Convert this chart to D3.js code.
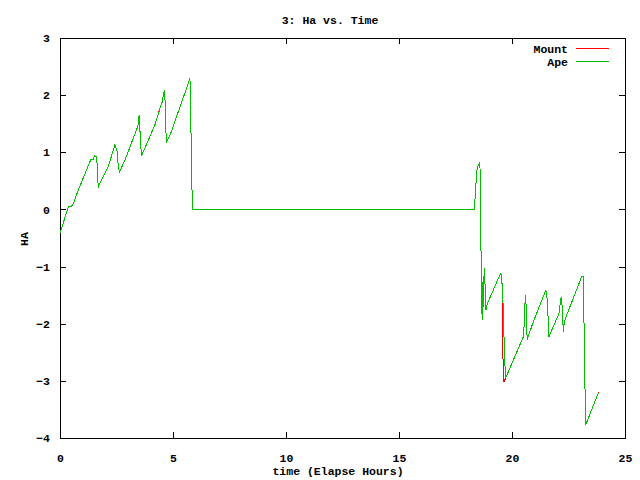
<!DOCTYPE html>
<html>
<head>
<meta charset="utf-8">
<script src="https://cdn.jsdelivr.net/npm/d3@7"></script>
<style>
  body { margin: 0; background: #fff; }
  text { font-family: "Liberation Mono", "DejaVu Sans Mono", monospace; font-weight: bold; font-size: 11.5px; fill: #000; }
</style>
</head>
<body>
<div id="chart"></div>
<script>
// x ticks / y ticks
const xTicks = [0, 5, 10, 15, 20, 25];
const yTicks = [-4, -3, -2, -1, 0, 1, 2, 3];

// Ape series (time in hours, HA)
const apeTime = [0, 0.37, 0.52, 0.59, 0.78, 1.37, 1.47, 1.52, 1.61, 1.64, 1.67, 1.70, 2.14, 2.43, 2.52, 2.58, 2.63, 2.88,
  3.44, 3.48, 3.50, 3.53, 3.57, 3.61, 4.20, 4.45, 4.53, 4.57, 4.62, 4.65, 4.68, 4.72, 4.87, 5.68, 5.75, 5.78, 5.83, 5.86,
  18.33, 18.36, 18.41, 18.43, 18.51, 18.58, 18.61, 18.64, 18.68, 18.70, 18.73, 18.77, 18.80, 18.85, 18.91, 19.39, 19.51,
  19.54, 19.58, 19.62, 19.67, 19.71, 19.73, 20.50, 20.54, 20.59, 20.63, 20.67, 20.94, 21.50, 21.57, 21.63, 22.08, 22.15,
  22.18, 22.22, 22.27, 22.31, 22.39, 23.08, 23.16, 23.18, 23.23, 23.26, 23.82];
const apeHA = [-0.42, 0.05, 0.06, 0.10, 0.31, 0.88, 0.87, 0.94, 0.92, 0.81, 0.51, 0.40, 0.76, 1.13, 1.04, 0.75, 0.65, 0.87,
  1.45, 1.55, 1.65, 1.45, 1.13, 0.94, 1.48, 1.80, 1.89, 2.00, 2.08, 1.89, 1.40, 1.18, 1.30, 2.21, 2.30, 1.74, 0.57, 0.00,
  0.00, 0.16, 0.48, 0.66, 0.78, 0.82, 0.13, -1.24, -1.94, -1.27, -1.70, -1.03, -1.24, -1.76, -1.65, -1.21, -1.11,
  -1.21, -1.40, -1.83, -2.56, -2.90, -2.94, -2.23, -2.00, -1.49, -1.70, -2.28, -1.97, -1.41, -1.62, -2.23, -1.82, -1.59,
  -1.54, -1.70, -2.14, -1.98, -1.88, -1.18, -1.17, -1.82, -3.13, -3.77, -3.21];

// Mount series (mostly under Ape)
const mountTime = [0, 0.37, 0.52, 0.59, 0.80, 1.37, 1.47, 1.52, 1.61, 1.64, 1.67, 1.70, 2.14, 2.43, 2.52, 2.58, 2.63, 2.88,
  3.44, 3.48, 3.50, 3.53, 3.57, 3.61, 4.20, 4.47, 4.53, 4.57, 4.62, 4.65, 4.68, 4.72, 4.87, 5.68, 5.75, 5.78, 5.83, 5.86,
  18.33, 18.36, 18.41, 18.43, 18.51, 18.58, 18.61, 18.64, 18.68, 18.70, 18.73, 18.77, 18.80, 18.85, 18.91, 19.39, 19.51,
  19.54, 19.57, 19.60, 19.64, 19.73, 20.50, 20.54, 20.59, 20.63, 20.67, 20.94, 21.50, 21.57, 21.63, 22.08, 22.15,
  22.18, 22.22, 22.27, 22.31, 22.39, 23.08, 23.16, 23.18, 23.23, 23.26, 23.82, 23.84];
const mountHA = [-0.42, 0.05, 0.06, 0.10, 0.33, 0.88, 0.87, 0.94, 0.92, 0.81, 0.51, 0.40, 0.76, 1.13, 1.04, 0.75, 0.65, 0.87,
  1.45, 1.55, 1.65, 1.45, 1.13, 0.94, 1.48, 1.83, 1.89, 2.00, 2.08, 1.89, 1.40, 1.18, 1.30, 2.21, 2.30, 1.74, 0.57, 0.00,
  0.00, 0.16, 0.48, 0.66, 0.78, 0.82, 0.13, -1.24, -1.94, -1.27, -1.70, -1.03, -1.24, -1.76, -1.65, -1.21, -1.11,
  -1.21, -1.35, -2.60, -3.02, -2.94, -2.23, -2.00, -1.49, -1.70, -2.28, -1.97, -1.41, -1.62, -2.23, -1.82, -1.59,
  -1.54, -1.70, -2.14, -1.98, -1.88, -1.18, -1.17, -1.82, -3.13, -3.77, -3.21, -3.22];

const margin = {top: 38, right: 15, bottom: 42, left: 60},
    width = 640 - margin.left - margin.right,
    height = 480 - margin.top - margin.bottom;

const svg = d3.select("#chart")
  .append("svg")
    .attr("width", 640)
    .attr("height", 480);

const g = svg.append("g")
    .attr("transform", `translate(${margin.left}, ${margin.top})`);

const x = d3.scaleLinear().domain([0, 25]).range([0, width]);
const y = d3.scaleLinear().domain([-4, 3]).range([height, 0]);

// ticks pointing inward, mirrored on top and right
const tl = 6;
g.append("g").call(d3.axisBottom(x).tickValues(xTicks).tickSize(-tl).tickPadding(16).tickFormat(d3.format("d")))
  .attr("transform", `translate(0, ${height})`);
g.append("g").call(d3.axisTop(x).tickValues(xTicks).tickSize(-tl).tickFormat(""));
g.append("g").call(d3.axisLeft(y).tickValues(yTicks).tickSize(-tl).tickPadding(10).tickFormat(d3.format("d")));
g.append("g").call(d3.axisRight(y).tickValues(yTicks).tickSize(-tl).tickFormat(""))
  .attr("transform", `translate(${width}, 0)`);
g.selectAll(".domain").remove();
g.selectAll(".tick line").attr("stroke", "#000").attr("shape-rendering", "crispEdges");
g.selectAll(".tick text").style("font-size", "11.5px").style("font-family", null);

g.append("rect")
  .attr("x", 0).attr("y", 0)
  .attr("width", width).attr("height", height)
  .attr("fill", "none").attr("stroke", "#000").attr("stroke-width", 1)
  .attr("shape-rendering", "crispEdges");

const line = d3.line().x(d => x(d[0])).y(d => y(d[1]));

const mountData = mountTime.map((t, i) => [t, mountHA[i]]);
const apeData = apeTime.map((t, i) => [t, apeHA[i]]);

g.append("path").datum(mountData)
  .attr("d", line).attr("fill", "none").attr("stroke", "#ff0000").attr("stroke-width", 1)
  .attr("shape-rendering", "crispEdges");
g.append("path").datum(apeData)
  .attr("d", line).attr("fill", "none").attr("stroke", "#00c000").attr("stroke-width", 1)
  .attr("shape-rendering", "crispEdges");

// legend
const legend = [["Mount", "#ff0000"], ["Ape", "#00c000"]];
legend.forEach((l, i) => {
  const ly = 10.5 + i * 13;
  g.append("text").attr("x", 508).attr("y", ly + 4.5).attr("text-anchor", "end").text(l[0]);
  g.append("line").attr("x1", 516).attr("x2", 549).attr("y1", ly).attr("y2", ly)
    .attr("stroke", l[1]).attr("stroke-width", 1).attr("shape-rendering", "crispEdges");
});

// title and axis labels
svg.append("text").attr("x", 330).attr("y", 24).attr("text-anchor", "middle").text("3: Ha vs. Time");
svg.append("text").attr("x", 338).attr("y", 475).attr("text-anchor", "middle").text("time (Elapse Hours)");
svg.append("text").attr("transform", "translate(28, 239) rotate(-90)").attr("text-anchor", "middle").text("HA");
</script>
</body>
</html>
